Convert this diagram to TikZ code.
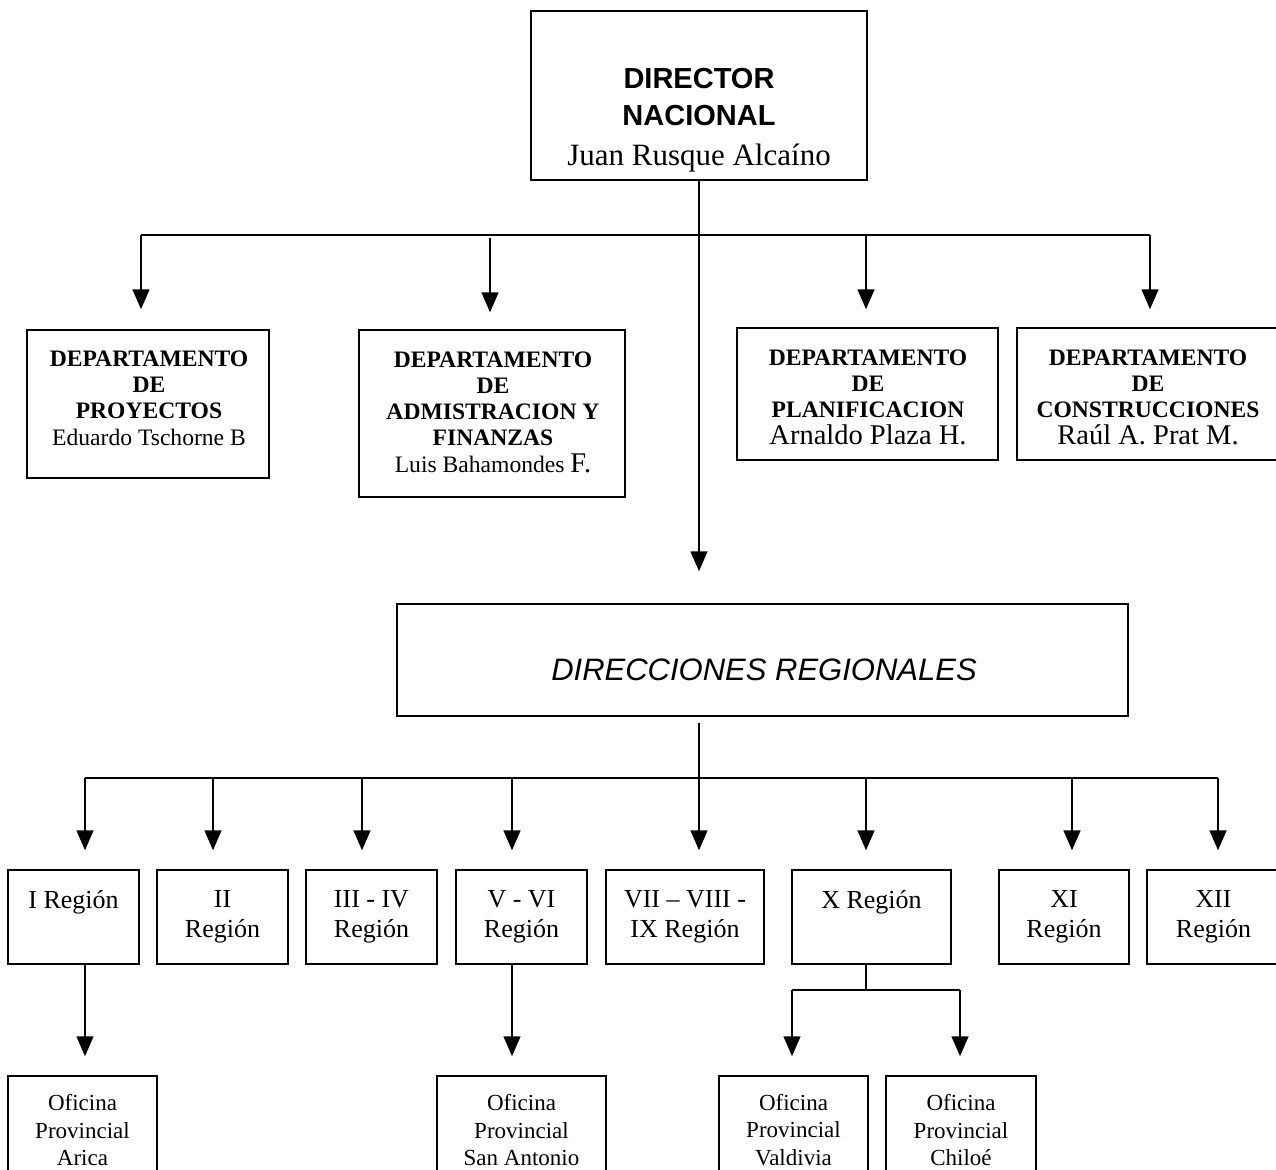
\documentclass[tikz,border=0pt]{standalone}
\usepackage{fontspec}
\setmainfont{Liberation Serif}
\newfontfamily\arialf{Liberation Sans}
\usetikzlibrary{arrows.meta,calc}
\newcommand{\deptf}{\fontsize{23.6}{26.3}\selectfont}
\newcommand{\bigname}{\fontsize{28.5}{30}\selectfont}
\newcommand{\regf}{\fontsize{26}{30}\selectfont}
\newcommand{\oficf}{\fontsize{23}{27.5}\selectfont}
\begin{document}
\begin{tikzpicture}[x=1pt,y=-1pt,
  box/.style={draw,line width=1.5pt,inner sep=0pt},
  ln/.style={line width=1.5pt},
  arr/.style={line width=1.5pt,-{Triangle[width=17pt,length=20pt]}},
  txt/.style={align=center,inner sep=0pt},
  rbox/.style={box,minimum height=94pt,align=center,font=\regf},
  obox/.style={box,minimum height=108pt,align=center,font=\oficf}]
\useasboundingbox (0,0) rectangle (1276,1169);
\clip (0,0) rectangle (1276,1169);

% Director
\node[box,minimum width=336pt,minimum height=169pt] (dn) at (699,95.5) {};
\node[txt,font=\arialf\bfseries\fontsize{29}{37.5}\selectfont] (dnt) at (699,120) {DIRECTOR\\NACIONAL\\[2pt]{\rmfamily\mdseries\fontsize{31}{36}\selectfont Juan Rusque Alcaíno}};

% Departments
\node[box,minimum width=242pt,minimum height=148pt] (d1) at (148,404) {};
\node[txt,font=\deptf] (d1t) at (149,398) {\textbf{DEPARTAMENTO}\\\textbf{DE}\\\textbf{PROYECTOS}\\Eduardo Tschorne B};
\node[box,minimum width=266pt,minimum height=167pt] (d2) at (492,413.5) {};
\node[txt,font=\deptf] (d2t) at (493,412) {\textbf{DEPARTAMENTO}\\\textbf{DE}\\\textbf{ADMISTRACION Y}\\\textbf{FINANZAS}\\Luis Bahamondes {\bigname F.}};
\node[box,minimum width=261pt,minimum height=132pt] (d3) at (867.5,394) {};
\node[txt,font=\deptf] (d3t) at (868,397) {\textbf{DEPARTAMENTO}\\\textbf{DE}\\\textbf{PLANIFICACION}\\{\bigname Arnaldo Plaza H.}};
\node[box,minimum width=263pt,minimum height=132pt] (d4) at (1148.5,394) {};
\node[txt,font=\deptf] (d4t) at (1148,397) {\textbf{DEPARTAMENTO}\\\textbf{DE}\\\textbf{CONSTRUCCIONES}\\{\bigname Raúl A. Prat M.}};

% Direcciones regionales
\node[box,minimum width=731pt,minimum height=112pt] (dr) at (762.5,660) {};
\node[txt,font=\arialf\itshape\fontsize{31}{34}\selectfont] (drt) at (764,670) {DIRECCIONES REGIONALES};

% Regions
\node[rbox,minimum width=131pt] (r1) at (73.5,917) {I Región\\\phantom{Región}};
\node[rbox,minimum width=131pt] (r2) at (222.5,917) {II\\Región};
\node[rbox,minimum width=131pt] (r3) at (371.5,917) {III - IV\\Región};
\node[rbox,minimum width=131pt] (r4) at (521.5,917) {V - VI\\Región};
\node[rbox,minimum width=158pt] (r5) at (685,917) {VII \textendash{} VIII -\\IX Región};
\node[rbox,minimum width=159pt] (r6) at (871.5,917) {X Región\\\phantom{Región}};
\node[rbox,minimum width=130pt] (r7) at (1064,917) {XI\\Región};
\node[rbox,minimum width=133pt] (r8) at (1213.5,917) {XII\\Región};

% Oficinas
\node[obox,minimum width=149pt] (b1) at (82.5,1130) {Oficina\\Provincial\\Arica};
\node[obox,minimum width=169pt] (b2) at (521.5,1130) {Oficina\\Provincial\\San Antonio};
\node[obox,minimum width=149pt] (b3) at (793.5,1130) {Oficina\\Provincial\\Valdivia};
\node[obox,minimum width=150pt] (b4) at (961,1130) {Oficina\\Provincial\\Chiloé};

% top connectors
\coordinate (t1) at (141,235);
\coordinate (t2) at (490,235);
\coordinate (t3) at (866,235);
\coordinate (t4) at (1150,235);
\draw[ln] (t1) -- (t4);
\draw[arr,shorten >=32pt] (dn.south) -- (dn.south |- dr.north);
\draw[arr,shorten >=20pt] (t1) -- (t1 |- d1.north);
\draw[arr,shorten >=17pt] ([yshift=-3pt]t2) -- (t2 |- d2.north);
\draw[arr,shorten >=18pt] (t3) -- (t3 |- d3.north);
\draw[arr,shorten >=18pt] (t4) -- (t4 |- d4.north);

% region connectors
\coordinate (q1) at (85,778);
\coordinate (q2) at (213,778);
\coordinate (q3) at (362,778);
\coordinate (q4) at (512,778);
\coordinate (q5) at (699,778);
\coordinate (q6) at (866,778);
\coordinate (q7) at (1072,778);
\coordinate (q8) at (1218,778);
\draw[ln] (q1) -- (q8);
\draw[arr,shorten >=19pt] ([yshift=-6pt]dr.south -| q5) -- (q5 |- r5.north);
\foreach \i in {1,2,3,4,6,7,8}{
  \draw[arr,shorten >=19pt] (q\i) -- (q\i |- r\i.north);
}

% office connectors
\draw[arr,shorten >=19pt] (r1.south -| q1) -- (b1.north -| q1);
\draw[arr,shorten >=19pt] (r4.south -| q4) -- (b2.north -| q4);
\coordinate (xj) at (866,990);
\coordinate (xl) at (792,990);
\coordinate (xr) at (960,990);
\draw[ln] (r6.south -| xj) -- (xj);
\draw[ln] (xl) -- (xr);
\draw[arr,shorten >=19pt] (xl) -- (xl |- b3.north);
\draw[arr,shorten >=19pt] (xr) -- (xr |- b4.north);
\end{tikzpicture}
\end{document}
